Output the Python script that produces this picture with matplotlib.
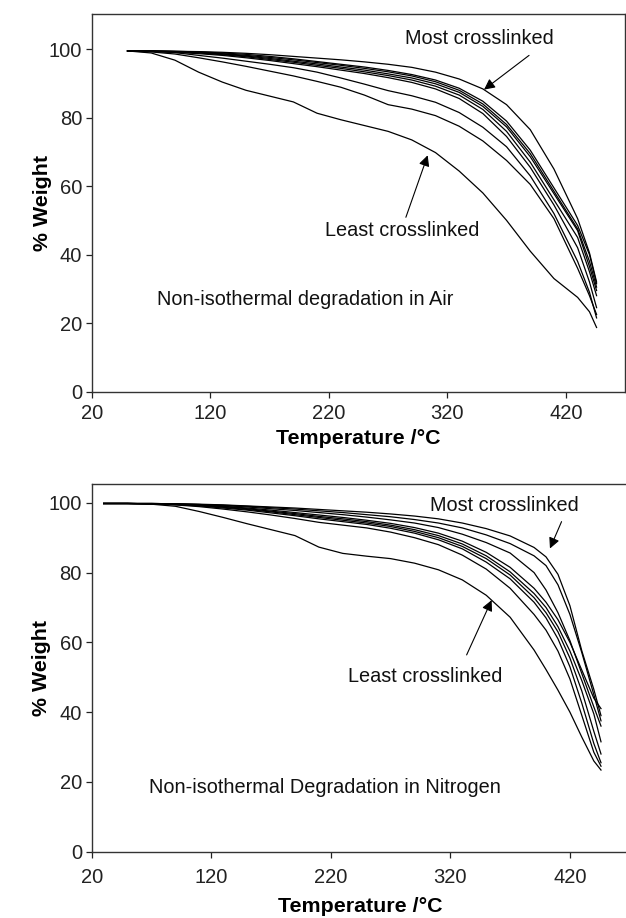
import matplotlib
matplotlib.use("Agg")
import matplotlib.pyplot as plt

plt.rcParams['font.family'] = ['Liberation Sans', 'DejaVu Sans']

# ---------------- Data: Air ----------------
x_air = [50, 70, 90, 110, 130, 150, 170, 190, 210, 230, 250, 270, 290, 310, 330, 350, 370, 390, 410, 430, 440, 446]
air_c1 = [99.5, 99.5, 99.4, 99.3, 99.1, 98.8, 98.4, 97.9, 97.4, 96.9, 96.3, 95.6, 94.7, 93.3, 91.3, 88.4, 83.8, 76.5, 65.0, 50.5, 40.5, 32.0]
air_b1 = [99.5, 99.5, 99.4, 99.2, 98.9, 98.5, 97.9, 97.2, 96.4, 95.6, 94.8, 93.8, 92.6, 91.0, 88.6, 84.8, 79.0, 70.5, 59.5, 48.5, 40.0, 31.5]
air_b2 = [99.5, 99.5, 99.3, 99.1, 98.7, 98.2, 97.6, 96.9, 96.1, 95.3, 94.4, 93.4, 92.2, 90.5, 88.0, 84.0, 78.0, 69.5, 58.5, 47.5, 38.0, 30.5]
air_b3 = [99.5, 99.4, 99.3, 99.0, 98.6, 98.0, 97.3, 96.5, 95.7, 94.8, 93.9, 92.8, 91.6, 89.9, 87.4, 83.3, 77.3, 68.6, 57.8, 47.0, 36.5, 29.5]
air_b4 = [99.5, 99.4, 99.2, 98.9, 98.4, 97.8, 97.0, 96.2, 95.3, 94.4, 93.4, 92.3, 91.0, 89.2, 86.6, 82.4, 76.0, 67.0, 56.0, 45.0, 35.0, 28.0]
air_b5 = [99.5, 99.4, 99.1, 98.7, 98.2, 97.5, 96.7, 95.8, 94.9, 93.9, 92.9, 91.7, 90.3, 88.4, 85.6, 81.2, 74.5, 65.5, 54.5, 42.0, 32.0, 24.5]
air_m1 = [99.5, 99.4, 99.0, 98.2, 97.4, 96.5, 95.6, 94.6, 93.3, 91.6, 89.8, 87.9, 86.4, 84.5, 81.5, 77.2, 71.5, 63.0, 52.0, 38.0, 29.0, 21.5]
air_m2 = [99.5, 99.2, 98.6, 97.5, 96.3, 95.0, 93.6, 92.2, 90.6, 88.9, 86.6, 83.8, 82.5, 80.6, 77.5, 73.2, 67.5, 60.5, 50.5, 36.0, 28.0, 22.5]
air_l = [99.5, 98.9, 96.8, 93.3, 90.4, 88.0, 86.3, 84.6, 81.3, 79.4, 77.7, 76.0, 73.5, 69.8, 64.4, 58.0, 50.0, 41.0, 33.0, 27.5, 23.3, 18.7]
air_series = [air_c1, air_b1, air_b2, air_b3, air_b4, air_b5, air_m1, air_m2, air_l]

# ---------------- Data: Nitrogen ----------------
x_n2 = [30, 50, 70, 90, 110, 130, 150, 170, 190, 210, 230, 250, 270, 290, 310, 330, 350, 370, 390, 400, 410, 420, 430, 440, 446]
n2_c1 = [99.8, 99.8, 99.8, 99.7, 99.6, 99.4, 99.1, 98.8, 98.5, 98.1, 97.7, 97.3, 96.8, 96.2, 95.4, 94.2, 92.6, 90.5, 87.2, 84.5, 79.5, 70.5, 57.5, 46.5, 39.0]
n2_c2 = [99.8, 99.8, 99.8, 99.7, 99.5, 99.3, 99.0, 98.6, 98.2, 97.7, 97.2, 96.6, 96.0, 95.2, 94.2, 92.8, 90.8, 88.3, 84.8, 82.0, 76.5, 68.0, 57.0, 45.0, 37.5]
n2_c3 = [99.8, 99.8, 99.8, 99.7, 99.5, 99.2, 98.8, 98.3, 97.8, 97.2, 96.6, 95.9, 95.1, 94.2, 92.9, 91.0, 88.6, 85.6, 80.0, 75.0, 68.5, 60.5, 51.0, 41.5, 36.0]
n2_b1 = [99.8, 99.8, 99.7, 99.6, 99.4, 99.0, 98.5, 97.9, 97.2, 96.5, 95.8, 95.0, 94.1, 92.9, 91.3, 89.0, 85.8, 81.5, 75.5, 71.5, 66.5, 60.0, 52.0, 44.0, 41.0]
n2_b2 = [99.8, 99.8, 99.7, 99.6, 99.3, 98.9, 98.3, 97.6, 96.9, 96.1, 95.4, 94.6, 93.6, 92.3, 90.6, 88.2, 84.8, 80.2, 74.0, 70.0, 64.5, 57.5, 49.0, 39.5, 31.5]
n2_b3 = [99.8, 99.8, 99.7, 99.5, 99.2, 98.7, 98.1, 97.4, 96.6, 95.8, 95.0, 94.2, 93.2, 91.8, 90.0, 87.5, 84.0, 79.3, 72.8, 68.5, 63.0, 55.5, 46.0, 34.5, 28.0]
n2_b4 = [99.8, 99.8, 99.7, 99.5, 99.1, 98.5, 97.9, 97.1, 96.3, 95.4, 94.6, 93.8, 92.7, 91.3, 89.4, 86.8, 83.0, 78.2, 71.5, 67.0, 61.0, 53.0, 42.5, 31.0, 25.5]
n2_m = [99.8, 99.8, 99.7, 99.4, 98.9, 98.2, 97.4, 96.5, 95.5, 94.4, 93.6, 92.8, 91.6, 90.0, 88.0, 85.0, 81.0, 75.5, 68.0, 63.5, 57.5, 49.5, 39.0, 28.5, 24.5]
n2_l = [99.8, 99.8, 99.6, 99.0, 97.5, 95.8, 94.0, 92.3, 90.6, 87.3, 85.5, 84.7, 84.0, 82.7, 80.8, 77.9, 73.5, 67.2, 57.8, 52.2, 46.3, 40.0, 32.8, 26.0, 23.4]
n2_series = [n2_c1, n2_c2, n2_c3, n2_b1, n2_b2, n2_b3, n2_b4, n2_m, n2_l]

x_ticks = [20, 120, 220, 320, 420]
y_ticks = [0, 20, 40, 60, 80, 100]

# annotation anchors (text position, arrow tail, arrow tip)
air_most = dict(text=(347, 103.1), tail=(389, 98.2), tip=(351, 88.2))
air_least = dict(text=(282, 47.0), tail=(285, 50.9), tip=(303.4, 69.0))
air_title_pos = (74.5, 27.0)
n2_most = dict(text=(365, 99.3), tail=(413, 94.6), tip=(403.3, 86.9))
n2_least = dict(text=(299, 50.3), tail=(333.6, 56.4), tip=(354.5, 72.1))
n2_title_pos = (68.2, 18.5)

W, H = 626, 918
fig = plt.figure(figsize=(W / 100, H / 100), dpi=100)

ax1 = fig.add_axes([92 / W, (H - 391.5) / H, (625 - 92) / W, (391.5 - 14.3) / H])
ax2 = fig.add_axes([91.7 / W, (H - 851.7) / H, 538 / W, (851.7 - 484.3) / H])

TXT = 14.3

def style(ax, ymax, xpad, xlabelpad):
    ax.set_xlim(20, 470)
    ax.set_ylim(0, ymax)
    ax.set_xticks(x_ticks)
    ax.set_yticks(y_ticks)
    ax.tick_params(direction='out', length=4, width=0.9, labelsize=14.5, colors='#222222')
    ax.tick_params(axis='x', pad=xpad)
    ax.tick_params(axis='y', pad=3)
    for sp in ax.spines.values():
        sp.set_linewidth(1.0)
        sp.set_color('#333333')
    ax.set_xlabel('Temperature /°C', fontsize=15.4, fontweight='bold', labelpad=xlabelpad)
    ax.set_ylabel('% Weight', fontsize=15.4, fontweight='bold', labelpad=-2)

def annotate(ax, spec, label):
    ax.annotate('', xy=spec['tip'], xytext=spec['tail'],
                arrowprops=dict(arrowstyle='-|>', color='black', lw=0.8, mutation_scale=16, shrinkA=0, shrinkB=0))
    ax.text(spec['text'][0], spec['text'][1], label, fontsize=TXT, ha='center', va='center', color='#111111')

for s in air_series:
    ax1.plot(x_air, s, color='black', lw=0.9)
style(ax1, 110.2, 5, 4)
annotate(ax1, air_most, 'Most crosslinked')
annotate(ax1, air_least, 'Least crosslinked')
ax1.text(air_title_pos[0], air_title_pos[1], 'Non-isothermal degradation in Air', fontsize=TXT, ha='left', va='center', color='#111111')

for s in n2_series:
    ax2.plot(x_n2, s, color='black', lw=0.9)
style(ax2, 105.3, 8, 7)
annotate(ax2, n2_most, 'Most crosslinked')
annotate(ax2, n2_least, 'Least crosslinked')
ax2.text(n2_title_pos[0], n2_title_pos[1], 'Non-isothermal Degradation in Nitrogen', fontsize=TXT, ha='left', va='center', color='#111111')

fig.savefig('out.png', dpi=100)
